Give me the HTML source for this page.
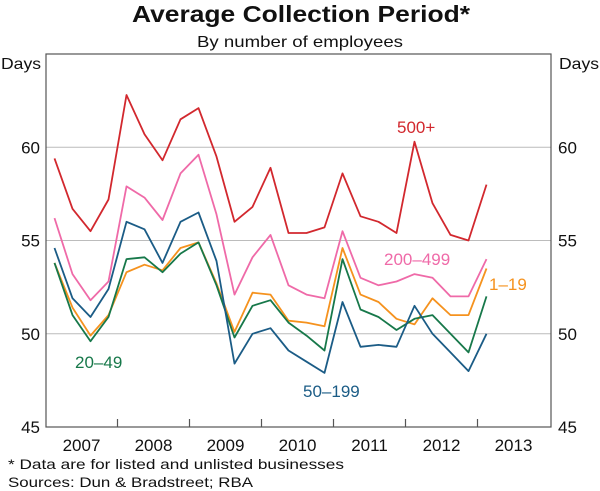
<!DOCTYPE html>
<html><head><meta charset="utf-8"><style>
body{margin:0;background:#fff;}
svg{display:block;font-family:"Liberation Sans",sans-serif;}
</style></head><body>
<svg id="chart" width="600" height="491">
<text x="132" y="22" font-size="23" font-weight="bold" fill="#111" textLength="338" lengthAdjust="spacingAndGlyphs">Average Collection Period*</text>
<text x="197" y="47" font-size="16" fill="#111" textLength="206" lengthAdjust="spacingAndGlyphs">By number of employees</text>
<text x="1" y="69" font-size="16" fill="#111" textLength="40" lengthAdjust="spacingAndGlyphs">Days</text>
<text x="559" y="69" font-size="16" fill="#111" textLength="40" lengthAdjust="spacingAndGlyphs">Days</text>
<g id="grid"></g><g id="series"></g><g id="axes"></g>
<text x="8" y="469" font-size="14" fill="#111" textLength="336" lengthAdjust="spacingAndGlyphs">*   Data are for listed and unlisted businesses</text>
<text x="8" y="487" font-size="14" fill="#111" textLength="245" lengthAdjust="spacingAndGlyphs">Sources: Dun &amp; Bradstreet; RBA</text>
</svg>
<script>
const years=["2007","2008","2009","2010","2011","2012","2013"];
const yTicks=[45,50,55,60];
const s500=[59.4,56.7,55.5,57.2,62.8,60.7,59.3,61.5,62.1,59.5,56.0,56.8,58.9,55.4,55.4,55.7,58.6,56.3,56.0,55.4,60.3,57.0,55.3,55.0,58.0];
const s200=[56.2,53.2,51.8,52.8,57.9,57.3,56.1,58.6,59.6,56.4,52.1,54.1,55.3,52.6,52.1,51.9,55.5,53.0,52.6,52.8,53.2,53.0,52.0,52.0,54.0];
const s1=[53.8,51.4,49.9,51.0,53.3,53.7,53.4,54.6,54.9,52.7,50.1,52.2,52.1,50.7,50.6,50.4,54.6,52.1,51.7,50.8,50.5,51.9,51.0,51.0,53.5];
const s20=[53.8,51.0,49.6,50.9,54.0,54.1,53.3,54.3,54.9,52.6,49.8,51.5,51.8,50.6,49.9,49.1,54.0,51.3,50.9,50.2,50.8,51.0,50.0,49.0,52.0];
const s50=[54.6,51.9,50.9,52.4,56.0,55.6,53.8,56.0,56.5,53.9,48.4,50.0,50.3,49.1,48.5,47.9,51.7,49.3,49.4,49.3,51.5,50.0,49.0,48.0,50.0];
const seriesNames=["500+","200–499","1–19","20–49","50–199"];
const L=46,R=551,T=54,B=427,X0=45.5,YW=72;
const x=i=>X0+YW/8+i*YW/4;
const y=v=>B-(v-45)*(B-T)/20;
const NS="http://www.w3.org/2000/svg";
function mk(p,t,a){const e=document.createElementNS(NS,t);for(const k in a)e.setAttribute(k,a[k]);p.appendChild(e);return e;}
const grid=document.getElementById('grid'),axes=document.getElementById('axes'),ser=document.getElementById('series');
yTicks.forEach(v=>{
  if(v>45){const g=mk(grid,'line',{x1:L,x2:R,y1:y(v),y2:y(v),stroke:'#bcbcbc','stroke-width':1});
  
  }
  const t1=mk(axes,'text',{x:L-6,y:y(v)+6,'text-anchor':'end','font-size':17,fill:'#111'});t1.textContent=v;
  
  
  const t2=mk(axes,'text',{x:R+7,y:y(v)+6,'font-size':17,fill:'#111'});t2.textContent=v;
  
  
});
const fr=mk(axes,'rect',{x:L,y:T,width:R-L,height:B-T,fill:'none',stroke:'#555','stroke-width':1.2});


years.forEach((yr,i)=>{
  if(i>0){const tk=mk(axes,'line',{x1:X0+i*YW,x2:X0+i*YW,y1:B,y2:B-8,stroke:'#555','stroke-width':1.2});
  
  }
  const t=mk(axes,'text',{x:X0+i*YW+YW/2,y:B+24,'text-anchor':'middle','font-size':17,fill:'#111'});t.textContent=yr;
  
  
});
const defs=[[s500,'#d2282e','500+',397,133],[s200,'#ef6aa8','200–499',384,265],[s1,'#f5921e','1–19',489,290],[s20,'#17784a','20–49',75,368],[s50,'#1b5c86','50–199',303,397]];
defs.forEach((d,k)=>{
  const pts=d[0].map((v,i)=>x(i).toFixed(1)+','+y(v).toFixed(1)).join(' ');
  const pl=mk(ser,'polyline',{points:pts,fill:'none',stroke:d[1],'stroke-width':1.8,'stroke-linejoin':'round'});
  
  
  const t=mk(ser,'text',{x:d[3],y:d[4],'font-size':17,fill:d[1]});t.textContent=d[2];
  
  
});
</script>
</body></html>
